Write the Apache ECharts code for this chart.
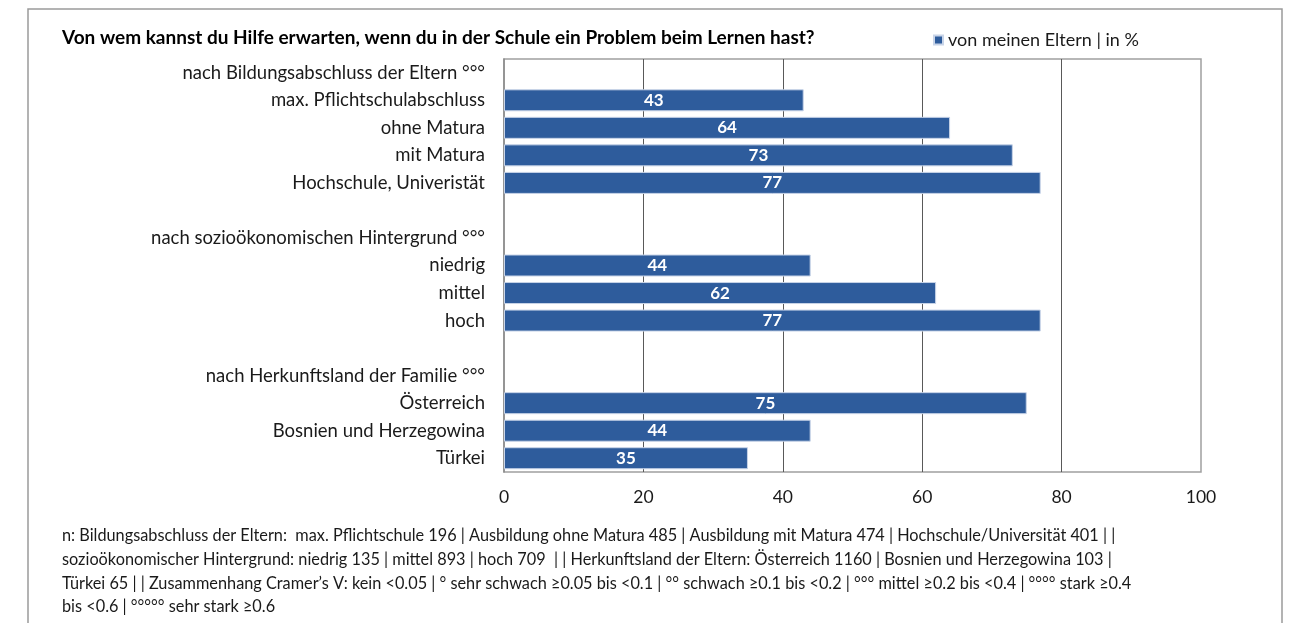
<!DOCTYPE html>
<html lang="de">
<head>
    <meta charset="utf-8">
    <title>Hilfe beim Lernen</title>
    <script src="https://cdn.jsdelivr.net/npm/echarts@6/dist/echarts.min.js"></script>
    <style>
        html, body { margin: 0; padding: 0; background: #fff; }
        #chart { width: 1290px; height: 623px; }
    </style>
</head>
<body>
<div id="chart"></div>
<script>
    // Kategorien (leere Einträge = Abstand zwischen den Gruppen)
    var categories = [
        'nach Bildungsabschluss der Eltern °°°',
        'max. Pflichtschulabschluss',
        'ohne Matura',
        'mit Matura',
        'Hochschule, Univeristät',
        ' ',
        'nach sozioökonomischen Hintergrund °°°',
        'niedrig',
        'mittel',
        'hoch',
        '  ',
        'nach Herkunftsland der Familie °°°',
        'Österreich',
        'Bosnien und Herzegowina',
        'Türkei'
    ];
    // von meinen Eltern | in %
    var elternValues = [null, 43, 64, 73, 77, null, null, 44, 62, 77, null, null, 75, 44, 35];
    var xTicks = [0, 20, 40, 60, 80, 100];

    var footnote = [
        'n: Bildungsabschluss der Eltern:  max. Pflichtschule 196 | Ausbildung ohne Matura 485 | Ausbildung mit Matura 474 | Hochschule/Universität 401 | |',
        'sozioökonomischer Hintergrund: niedrig 135 | mittel 893 | hoch 709  | | Herkunftsland der Eltern: Österreich 1160 | Bosnien und Herzegowina 103 |',
        'Türkei 65 | | Zusammenhang Cramer’s V: kein <0.05 | ° sehr schwach ≥0.05 bis <0.1 | °° schwach ≥0.1 bis <0.2 | °°° mittel ≥0.2 bis <0.4 | °°°° stark ≥0.4',
        'bis <0.6 | °°°°° sehr stark ≥0.6'
    ];

    var font = 'Lato, "Liberation Sans", sans-serif';
    var chart = echarts.init(document.getElementById('chart'));

    chart.setOption({
        animation: false,
        textStyle: { fontFamily: font },
        graphic: [
            {
                type: 'rect',
                shape: { x: 28, y: 9, width: 1254, height: 640 },
                style: { fill: 'none', stroke: '#9a9a9a', lineWidth: 1.5 },
                z: -10
            }
        ],
        title: [
            {
                text: 'Von wem kannst du Hilfe erwarten, wenn du in der Schule ein Problem beim Lernen hast?',
                left: 57,
                top: 23,
                textStyle: { fontSize: 19, fontWeight: 'bold', color: '#000', fontFamily: font }
            },
            {
                text: footnote.join('\n'),
                left: 57,
                top: 519,
                textStyle: { fontSize: 16.3, fontWeight: 'normal', color: '#1a1a1a', lineHeight: 23.7, fontFamily: font }
            }
        ],
        legend: {
            data: ['von meinen Eltern | in %'],
            left: 928,
            top: 26,
            icon: 'rect',
            itemWidth: 9,
            itemHeight: 9,
            itemGap: 6,
            textStyle: { fontSize: 18, color: '#1a1a1a', fontFamily: font }
        },
        grid: {
            left: 504,
            right: 89,
            top: 59,
            bottom: 151,
            show: true,
            borderColor: '#a0a0a0',
            borderWidth: 1.5,
            containLabel: false
        },
        xAxis: {
            type: 'value',
            min: 0,
            max: 100,
            interval: 20,
            axisLine: { show: false },
            axisTick: { show: false },
            axisLabel: {
                margin: 16,
                fontSize: 17.5,
                color: '#1a1a1a',
                formatter: function (v) { return xTicks.indexOf(v) >= 0 ? String(v) : ''; }
            },
            splitLine: {
                show: true,
                showMinLine: false,
                showMaxLine: false,
                lineStyle: { color: '#595959', width: 1 }
            }
        },
        yAxis: {
            type: 'category',
            data: categories,
            inverse: true,
            axisLine: { show: true, lineStyle: { color: '#8a8a8a', width: 1.5 } },
            axisTick: { show: false },
            axisLabel: { margin: 19, fontSize: 18.5, color: '#1a1a1a' }
        },
        series: [
            {
                name: 'von meinen Eltern | in %',
                type: 'bar',
                data: elternValues,
                barWidth: 22,
                itemStyle: { color: '#2e5c9c', borderColor: '#c8d4e8', borderWidth: 1 },
                label: {
                    show: true,
                    position: 'inside',
                    color: '#fff',
                    fontSize: 17,
                    fontWeight: 'bold'
                }
            }
        ]
    });
</script>
</body>
</html>
